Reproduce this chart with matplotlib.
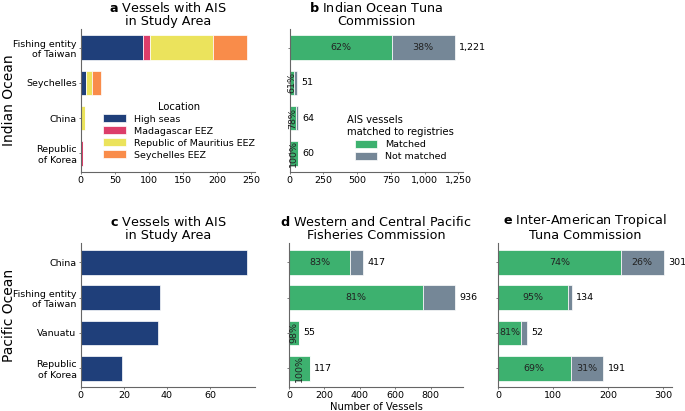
import numpy as np
import matplotlib
matplotlib.use("Agg")
import matplotlib.pyplot as plt

# Data
io_flags = ["Fishing entity\nof Taiwan", "Seychelles", "China", "Republic\nof Korea"]
locations = ["High seas", "Madagascar EEZ", "Republic of Mauritius EEZ", "Seychelles EEZ"]
high_seas = [91, 7, 0, 0]
madagascar = [10, 0, 0, 3]
mauritius = [93, 9, 6, 0]
seychelles = [49, 14, 0, 0]

iotc_total = [1221, 51, 64, 60]
iotc_pct = [62, 61, 78, 100]

po_flags = ["China", "Fishing entity\nof Taiwan", "Vanuatu", "Republic\nof Korea"]
po_vessels = [77, 37, 36, 19]

wcpfc_total = [417, 936, 55, 117]
wcpfc_pct = [83, 81, 98, 100]

iattc_total = [301, 134, 52, 191]
iattc_pct = [74, 95, 81, 69]

loc_colors = ["#1f3f7a", "#dc3e6a", "#ebe35c", "#f98c4a"]
green = "#3db16f"
grey = "#758797"

FS = 6.8
plt.rcParams["font.family"] = "DejaVu Sans"
plt.rcParams["font.size"] = FS

fig = plt.figure(figsize=(6.85, 4.11), dpi=100)

ax_a = fig.add_axes([0.118, 0.5815, 0.254, 0.348])
ax_b = fig.add_axes([0.423, 0.5815, 0.2526, 0.348])
ax_c = fig.add_axes([0.118, 0.058, 0.254, 0.350])
ax_d = fig.add_axes([0.422, 0.058, 0.254, 0.350])
ax_e = fig.add_axes([0.727, 0.058, 0.254, 0.350])

H = 0.7
title_kw = dict(fontsize=9.2, pad=3, linespacing=1.0)
leg_kw = dict(frameon=False, fontsize=FS, title_fontsize=7.2, handlelength=2.4,
              handleheight=0.9, labelspacing=0.3, borderaxespad=0)


def style(ax):
    ax.spines["top"].set_visible(False)
    ax.spines["right"].set_visible(False)
    ax.spines["left"].set_color("#666666")
    ax.spines["bottom"].set_color("#666666")
    ax.tick_params(labelsize=FS, length=1.5, width=0.6, pad=1.5, color="#666666")


# Panel a: stacked by location
y = np.arange(len(io_flags))[::-1]
left = np.zeros(len(io_flags))
for name, vals, col in zip(locations, [high_seas, madagascar, mauritius, seychelles], loc_colors):
    ax_a.barh(y, vals, left=left, height=H, color=col, label=name,
              edgecolor="white", linewidth=0.5)
    left += np.array(vals)
ax_a.set_yticks(y)
ax_a.set_yticklabels(io_flags)
ax_a.set_title(r"$\bf{a}$ Vessels with AIS" + "\nin Study Area", **title_kw)
ax_a.set_ylabel("Indian Ocean", fontsize=10)
ax_a.yaxis.set_label_coords(-0.37, 0.5)
ax_a.legend(title="Location", loc="lower right", bbox_to_anchor=(1.02, 0.06), **leg_kw)
style(ax_a)


def matched_panel(ax, totals, pcts):
    totals = np.array(totals)
    pcts = np.array(pcts)
    matched = totals * pcts / 100.0
    rest = totals - matched
    yy = np.arange(len(totals))[::-1]
    ax.barh(yy, matched, height=H, color=green, label="Matched",
            edgecolor="white", linewidth=0.5)
    ax.barh(yy, rest, left=matched, height=H, color=grey, label="Not matched",
            edgecolor="white", linewidth=0.5)
    xmax = totals.max() * 1.05
    ax.set_xlim(0, xmax)
    for yi, t, m, r, p in zip(yy, totals, matched, rest, pcts):
        rot = 90 if m / xmax < 0.125 else 0
        ax.text(m / 2, yi, f"{p}%", rotation=rot, ha="center", va="center",
                fontsize=FS, color="#222222")
        if 100 - p >= 20 and r / xmax > 0.1:
            ax.text(m + r / 2, yi, f"{100 - p}%", ha="center", va="center",
                    fontsize=FS, color="#222222")
        ax.text(t + xmax * 0.025, yi, f"{t:,}", ha="left", va="center", fontsize=FS)
    ax.set_yticks(yy)
    ax.set_yticklabels([])
    style(ax)


matched_panel(ax_b, iotc_total, iotc_pct)
ax_b.set_xticks([0, 250, 500, 750, 1000, 1250])
ax_b.set_xticklabels(["0", "250", "500", "750", "1,000", "1,250"])
ax_b.set_title(r"$\bf{b}$ Indian Ocean Tuna" + "\nCommission", **title_kw)
ax_b.legend(title="AIS vessels\nmatched to registries", loc="lower right",
            bbox_to_anchor=(0.97, 0.05), **leg_kw)

# Panel c
yc = np.arange(len(po_flags))[::-1]
ax_c.barh(yc, po_vessels, height=H, color=loc_colors[0], edgecolor="white", linewidth=0.5)
ax_c.set_yticks(yc)
ax_c.set_yticklabels(po_flags)
ax_c.set_xticks([0, 20, 40, 60])
ax_c.set_title(r"$\bf{c}$ Vessels with AIS" + "\nin Study Area", **title_kw)
ax_c.set_ylabel("Pacific Ocean", fontsize=10)
ax_c.yaxis.set_label_coords(-0.37, 0.5)
style(ax_c)

matched_panel(ax_d, wcpfc_total, wcpfc_pct)
ax_d.set_xticks([0, 200, 400, 600, 800])
ax_d.set_title(r"$\bf{d}$ Western and Central Pacific" + "\nFisheries Commission", **title_kw)
ax_d.set_xlabel("Number of Vessels", fontsize=7.2, labelpad=1)

matched_panel(ax_e, iattc_total, iattc_pct)
ax_e.set_xticks([0, 100, 200, 300])
ax_e.set_title(r"$\bf{e}$ Inter-American Tropical" + "\nTuna Commission", **title_kw)

fig.savefig("out.png", dpi=100)
